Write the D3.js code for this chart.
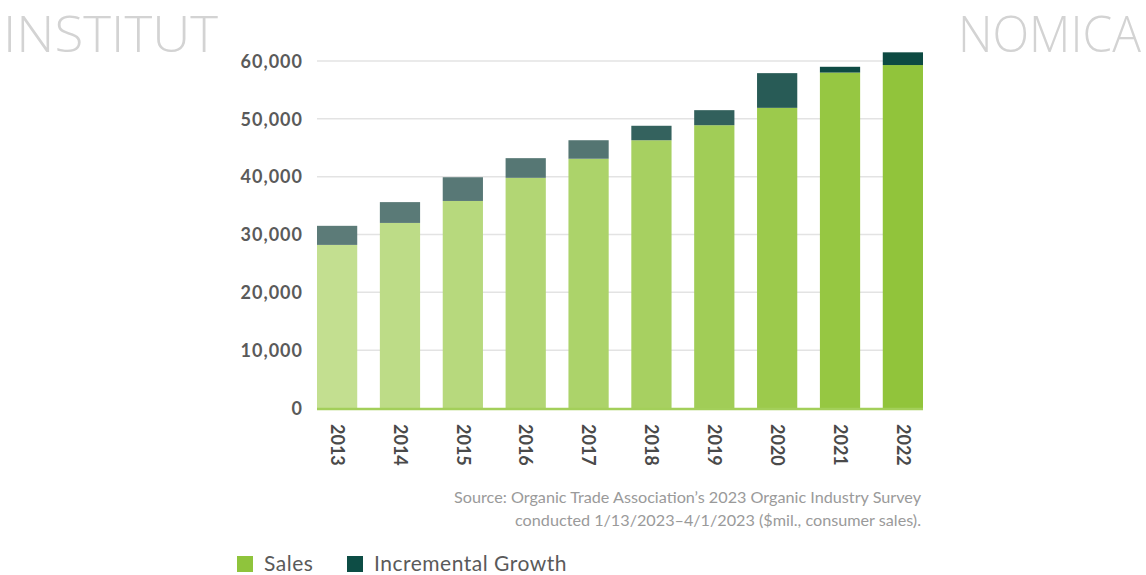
<!DOCTYPE html>
<html>
<head>
<meta charset="utf-8">
<script src="https://cdn.jsdelivr.net/npm/d3@7"></script>
<style>
  html, body { margin: 0; padding: 0; background: #fff; }
  svg { display: block; }
</style>
</head>
<body>
<svg id="chart" width="1146" height="575"></svg>
<script>
// U.S. organic sales, $ millions
const years = ["2013", "2014", "2015", "2016", "2017", "2018", "2019", "2020", "2021", "2022"];
const sales = [28200, 32000, 35800, 39800, 43100, 46300, 48900, 51900, 58000, 59300];
const incrementalGrowth = [3300, 3600, 4100, 3400, 3200, 2500, 2600, 6000, 1000, 2200];
const yTicks = [0, 10000, 20000, 30000, 40000, 50000, 60000];
const salesColors = ["#c3df90", "#bddc87", "#b7d97d", "#b2d674", "#acd36a", "#a7d061", "#a1cd57", "#9cca4c", "#96c742", "#91c43b"];
const growthColors = ["#5c7b78", "#5a7a77", "#587876", "#567774", "#547572", "#34625e", "#32605c", "#285b56", "#0f4b44", "#0d4a42"];
const legendItems = ["Sales", "Incremental Growth"];
const legendColors = ["#8fc43c", "#0d4d45"];

const svg = d3.select("#chart");
const font = "Lato, 'Open Sans', sans-serif";

// watermark
svg.append("text").attr("x", 3).attr("y", 52)
  .attr("font-family", "'Open Sans', sans-serif").attr("font-weight", 300)
  .attr("font-size", 49).attr("fill", "#d3d3d3").attr("textLength", 215)
  .attr("lengthAdjust", "spacingAndGlyphs").text("INSTITUT");
svg.append("text").attr("x", 1141).attr("y", 52).attr("text-anchor", "end")
  .attr("font-family", "'Open Sans', sans-serif").attr("font-weight", 300)
  .attr("font-size", 49).attr("fill", "#d3d3d3").attr("textLength", 183)
  .attr("lengthAdjust", "spacingAndGlyphs").text("NOMICA");

const x = d3.scaleBand().domain(years).range([317, 923]).paddingInner(0.36).paddingOuter(0);
const y = d3.scaleLinear().domain([0, 60000]).range([408, 61]);

// gridlines
svg.append("g").selectAll("line").data(yTicks.slice(1)).join("line")
  .attr("x1", 317).attr("x2", 922)
  .attr("y1", d => y(d)).attr("y2", d => y(d))
  .attr("stroke", "#e3e3e3").attr("stroke-width", 1.5);

// y axis labels
const yAxis = svg.append("g").attr("transform", "translate(303,0)")
  .call(d3.axisLeft(y).tickValues(yTicks).tickSize(0).tickPadding(0).tickFormat(d3.format(",")));
yAxis.select(".domain").remove();
yAxis.selectAll("text").attr("font-family", font).attr("font-weight", 700)
  .attr("font-size", 18).attr("letter-spacing", 1).attr("fill", "#5a5a5a").attr("dy", "0.35em");

// stacked bars
const rows = years.map((yr, i) => ({ yr, i, sales: sales[i], growth: incrementalGrowth[i] }));
svg.append("g").selectAll("rect").data(rows).join("rect")
  .attr("x", d => x(d.yr)).attr("width", x.bandwidth())
  .attr("y", d => y(d.sales)).attr("height", d => y(0) - y(d.sales))
  .attr("fill", d => salesColors[d.i]);
svg.append("g").selectAll("rect").data(rows).join("rect")
  .attr("x", d => x(d.yr)).attr("width", x.bandwidth())
  .attr("y", d => y(d.sales + d.growth)).attr("height", d => y(d.sales) - y(d.sales + d.growth))
  .attr("fill", d => growthColors[d.i]);

// baseline
svg.append("line").attr("x1", 317).attr("x2", 923).attr("y1", y(0) + 1).attr("y2", y(0) + 1)
  .attr("stroke", "#a3cf5a").attr("stroke-width", 2.5);

// x axis labels, rotated
const xAxis = svg.append("g").attr("transform", `translate(0,${y(0)})`)
  .call(d3.axisBottom(x).tickSize(0).tickPadding(0));
xAxis.select(".domain").remove();
xAxis.selectAll("text")
  .attr("font-family", font).attr("font-weight", 700).attr("font-size", 18).attr("fill", "#4a4a4a")
  .attr("transform", "translate(0,16) rotate(90)")
  .attr("text-anchor", "start").attr("dy", "0.35em").attr("x", 0).attr("y", 0);

// source note
const src = svg.append("text").attr("text-anchor", "end")
  .attr("font-family", font).attr("font-size", 16.2).attr("fill", "#9a9a9a");
src.append("tspan").attr("x", 921).attr("y", 503)
  .text("Source: Organic Trade Association\u2019s 2023 Organic Industry Survey");
src.append("tspan").attr("x", 921).attr("y", 526)
  .text("conducted 1/13/2023\u20134/1/2023 ($mil., consumer sales).");

// legend
const lx = [237, 347];
const lg = svg.append("g").selectAll("g").data(legendItems).join("g")
  .attr("transform", (d, i) => `translate(${lx[i]},556)`);
lg.append("rect").attr("width", 16).attr("height", 16).attr("fill", (d, i) => legendColors[i]);
lg.append("text").attr("x", 27).attr("y", 15)
  .attr("font-family", font).attr("font-size", 21).attr("letter-spacing", 0.5)
  .attr("fill", "#5a5a5a").text(d => d);
</script>
</body>
</html>
